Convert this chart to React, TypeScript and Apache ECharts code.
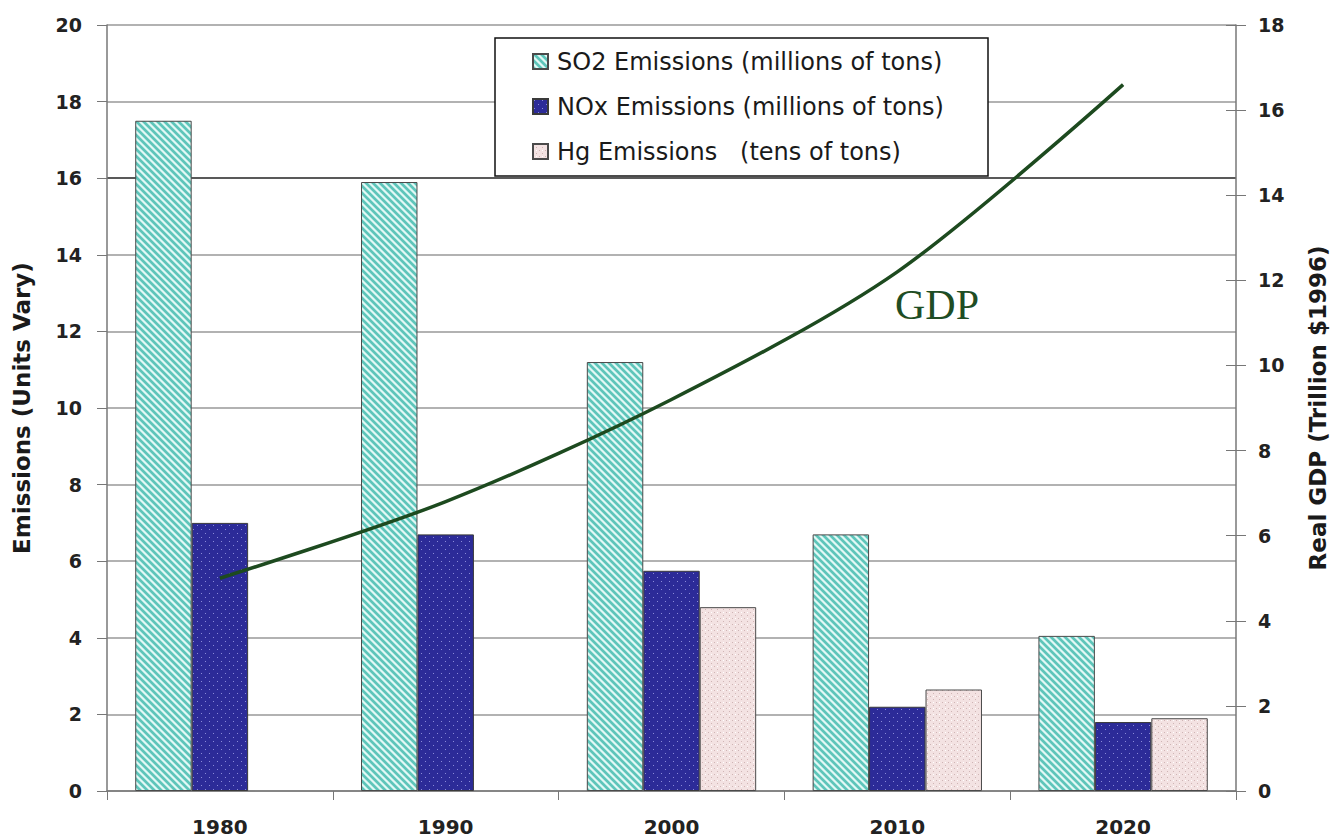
import React, { useEffect, useRef } from "react";
import * as echarts from "echarts";

const categories = ["1980", "1990", "2000", "2010", "2020"];
const so2Values = [17.5, 15.9, 11.2, 6.7, 4.05];
const noxValues = [7.0, 6.7, 5.75, 2.2, 1.8];
const hgValues: (number | null)[] = [null, null, 4.8, 2.65, 1.9];
const gdpValues = [5.0, 6.8, 9.2, 12.2, 16.6];

const seriesNames = [
  "SO2 Emissions (millions of tons)",
  "NOx Emissions (millions of tons)",
  "Hg Emissions   (tens of tons)",
];

function makeTile(w: number, h: number, fn: (x: number, y: number) => string) {
  const c = document.createElement("canvas");
  c.width = w;
  c.height = h;
  const ctx = c.getContext("2d")!;
  for (let y = 0; y < h; y++) {
    for (let x = 0; x < w; x++) {
      ctx.fillStyle = fn(x, y);
      ctx.fillRect(x, y, 1, 1);
    }
  }
  return c;
}

export default function App() {
  const ref = useRef<HTMLDivElement>(null);
  useEffect(() => {
    if (!ref.current) return;
    const chart = echarts.init(ref.current, undefined, { renderer: "svg" });

    const so2Tile = makeTile(7, 7, (x, y) => {
      const d = (((x - y) % 7) + 7) % 7;
      if (d < 3) return "#5ec5ba";
      if (d === 3 || d === 6) return "#a8e3dc";
      return "#e2f8f5";
    });
    const noxTile = makeTile(8, 8, (x, y) => {
      if ((x === 1 && y === 1) || (x === 5 && y === 5)) return "#8a8ad8";
      return "#2c2b98";
    });
    const hgTile = makeTile(6, 6, (x, y) => {
      if ((x === 0 && y === 0) || (x === 3 && y === 3)) return "#cfb4b4";
      if (x === 3 && y === 0) return "#ffffff";
      return "#f3e2e2";
    });

    const pat = (img: HTMLCanvasElement) => ({ image: img, repeat: "repeat" });

    const gridColors = ["#999", "#999", "#999", "#999", "#999", "#999", "#999", "#999", "#222", "#999", "#999"];
    const fontFamily = "DejaVu Sans";

    const option: any = {
      animation: false,
      backgroundColor: "#ffffff",
      grid: { left: 107, right: 97, top: 25, bottom: 49, containLabel: false },
      legend: {
        data: seriesNames,
        orient: "vertical",
        left: 532,
        top: 48,
        padding: 0,
        itemGap: 18,
        itemWidth: 15,
        itemHeight: 15,
        icon: "rect",
        z: 10,
        textStyle: {
          fontFamily,
          fontSize: 24,
          lineHeight: 27,
          color: "#1a1a1a",
          padding: [0, 0, 0, 4],
        },
      },
      graphic: [
        {
          type: "rect",
          z: 5,
          shape: { x: 495, y: 38, width: 493, height: 138 },
          style: { fill: "#ffffff", stroke: "#111", lineWidth: 1.5 },
        },
        {
          type: "text",
          z: 6,
          x: 937,
          y: 305,
          style: {
            text: "GDP",
            fontFamily: "Liberation Serif",
            fontSize: 42,
            fill: "#1e4d24",
            textAlign: "center",
            textVerticalAlign: "middle",
          },
        },
      ],
      xAxis: {
        type: "category",
        data: categories,
        boundaryGap: true,
        axisLine: { show: true, lineStyle: { color: "#777", width: 1.5 } },
        axisTick: { show: true, length: 9, alignWithLabel: false, lineStyle: { color: "#777" } },
        axisLabel: {
          fontFamily,
          fontWeight: "bold",
          fontSize: 20,
          color: "#222",
          margin: 26,
        },
      },
      yAxis: [
        {
          type: "value",
          min: 0,
          max: 20,
          interval: 2,
          position: "left",
          name: "Emissions (Units Vary)",
          nameLocation: "middle",
          nameGap: 74,
          nameTextStyle: { fontFamily, fontWeight: "bold", fontSize: 23, color: "#1a1a1a" },
          axisLine: { show: true, lineStyle: { color: "#777", width: 1.5 } },
          axisTick: { show: true, length: 10, lineStyle: { color: "#777" } },
          axisLabel: { fontFamily, fontWeight: "bold", fontSize: 19, color: "#222", margin: 25 },
          splitLine: { show: true, lineStyle: { color: gridColors, width: 1.5 } },
        },
        {
          type: "value",
          min: 0,
          max: 18,
          interval: 2,
          position: "right",
          name: "Real GDP (Trillion $1996)",
          nameLocation: "middle",
          nameGap: 70,
          nameRotate: 90,
          nameTextStyle: { fontFamily, fontWeight: "bold", fontSize: 23, color: "#1a1a1a" },
          axisLine: { show: true, lineStyle: { color: "#777", width: 1.5 } },
          axisTick: { show: true, length: 10, lineStyle: { color: "#777" } },
          axisLabel: { fontFamily, fontWeight: "bold", fontSize: 19, color: "#222", margin: 22 },
          splitLine: { show: false },
        },
        {
          type: "value",
          min: 0,
          max: 18,
          interval: 2,
          position: "right",
          axisLine: { show: false },
          axisTick: { show: true, inside: true, length: 10, lineStyle: { color: "#777" } },
          axisLabel: { show: false },
          splitLine: { show: false },
        },
      ],
      series: [
        {
          name: seriesNames[0],
          type: "bar",
          data: so2Values,
          barGap: "0%",
          barCategoryGap: "25%",
          itemStyle: { color: pat(so2Tile), borderColor: "#4a4a4a", borderWidth: 1 },
          z: 2,
        },
        {
          name: seriesNames[1],
          type: "bar",
          data: noxValues,
          barGap: "0%",
          barCategoryGap: "25%",
          itemStyle: { color: pat(noxTile), borderColor: "#3a3a3a", borderWidth: 1 },
          z: 2,
        },
        {
          name: seriesNames[2],
          type: "bar",
          data: hgValues,
          barGap: "0%",
          barCategoryGap: "25%",
          itemStyle: { color: pat(hgTile), borderColor: "#4a4a4a", borderWidth: 1 },
          z: 2,
        },
        {
          name: "GDP",
          type: "line",
          yAxisIndex: 1,
          data: gdpValues,
          smooth: 0.3,
          showSymbol: false,
          symbol: "none",
          lineStyle: { color: "#1d4a1f", width: 3.5 },
          z: 4,
        },
      ],
    };
    chart.setOption(option);
    return () => chart.dispose();
  }, []);

  return (
    <div
      ref={ref}
      style={{ position: "fixed", left: 0, top: 0, width: 1337, height: 840, background: "#fff" }}
    />
  );
}
